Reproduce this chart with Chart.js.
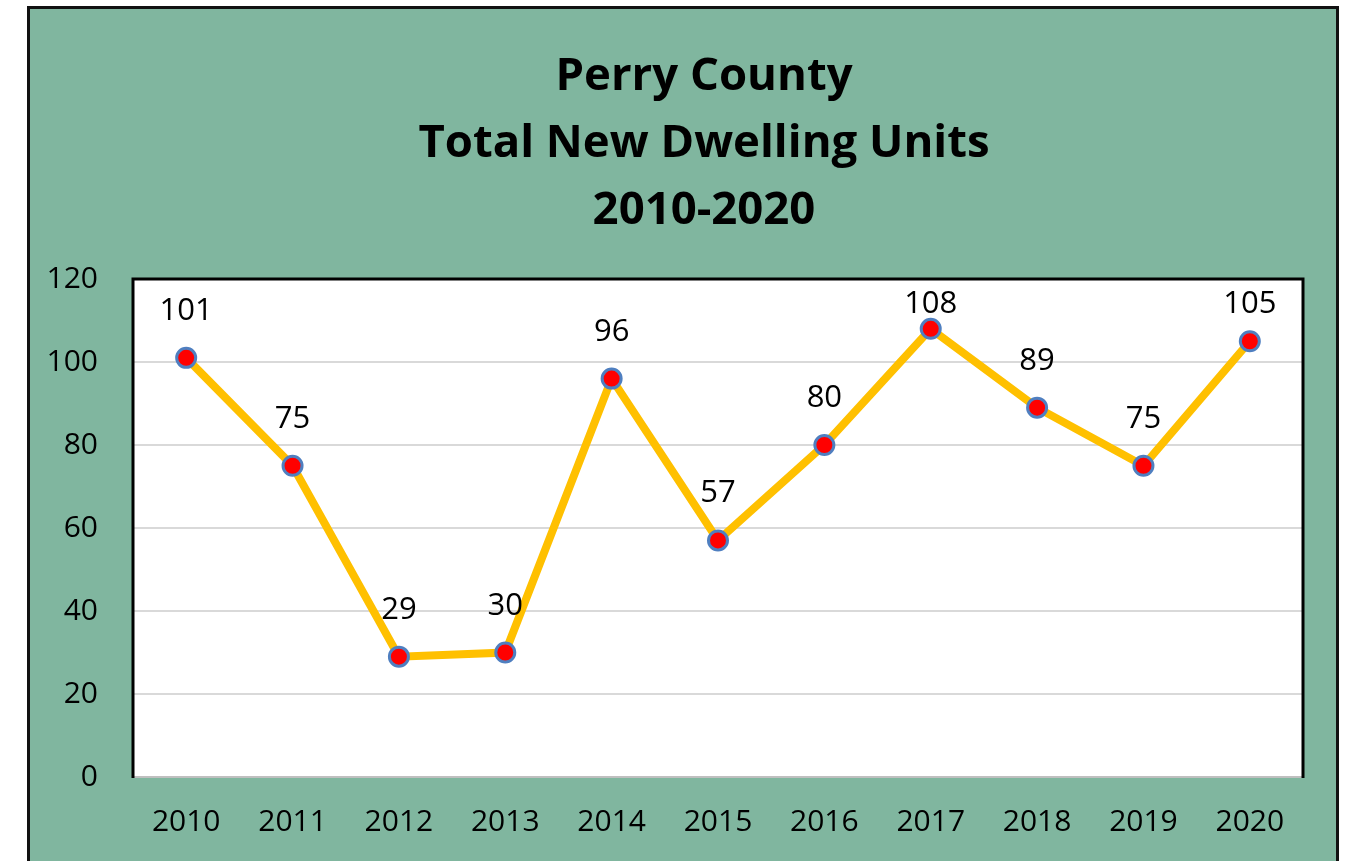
<!DOCTYPE html>
<html>
<head>
<meta charset="utf-8">
<script src="https://cdn.jsdelivr.net/npm/chart.js@4"></script>
<style>
  html, body { margin: 0; padding: 0; background: #ffffff; }
  #wrap { width: 1352px; height: 861px; }
</style>
</head>
<body>
<div id="wrap"><canvas id="chart" width="1352" height="861"></canvas></div>
<script>
// Chart values
var years = ['2010', '2011', '2012', '2013', '2014', '2015', '2016', '2017', '2018', '2019', '2020'];
var units = [101, 75, 29, 30, 96, 57, 80, 108, 89, 75, 105];
var yTicks = [0, 20, 40, 60, 80, 100, 120];
var titleLines = ['Perry County', 'Total New Dwelling Units', '2010-2020'];

var FONT = '"Open Sans", "Liberation Sans", sans-serif';

/**
 * Green panel with black frame behind everything, white plot area.
 */
var panelPlugin = {
    id: 'panel',
    beforeDraw: function(chart) {
        var ctx = chart.ctx;
        var area = chart.chartArea;
        ctx.save();
        ctx.fillStyle = '#ffffff';
        ctx.fillRect(0, 0, chart.width, chart.height);
        ctx.fillStyle = '#80B69F';
        ctx.fillRect(27, 6, 1312, chart.height);
        ctx.strokeStyle = '#111111';
        ctx.lineWidth = 3;
        ctx.beginPath();
        ctx.moveTo(28.5, chart.height + 2);
        ctx.lineTo(28.5, 7.5);
        ctx.lineTo(1337.5, 7.5);
        ctx.lineTo(1337.5, chart.height + 2);
        ctx.stroke();
        ctx.fillStyle = '#ffffff';
        ctx.fillRect(area.left, area.top, area.right - area.left, area.bottom - area.top);
        ctx.restore();
    },
    beforeDatasetsDraw: function(chart) {
        var ctx = chart.ctx;
        var a = chart.chartArea;
        ctx.save();
        // bottom axis line
        ctx.strokeStyle = '#BFBFBF';
        ctx.lineWidth = 2;
        ctx.beginPath();
        ctx.moveTo(a.left, a.bottom);
        ctx.lineTo(a.right, a.bottom);
        ctx.stroke();
        // left, top, right frame
        ctx.strokeStyle = '#000000';
        ctx.lineWidth = 3;
        ctx.beginPath();
        ctx.moveTo(a.left, a.bottom + 1);
        ctx.lineTo(a.left, a.top);
        ctx.lineTo(a.right, a.top);
        ctx.lineTo(a.right, a.bottom + 1);
        ctx.stroke();
        ctx.restore();
    },
    afterDraw: function(chart) {
        var ctx = chart.ctx;
        var a = chart.chartArea;
        ctx.save();
        // Title lines
        ctx.fillStyle = '#000000';
        ctx.textAlign = 'center';
        ctx.textBaseline = 'alphabetic';
        ctx.font = 'bold 45.5px ' + FONT;
        titleLines.forEach(function(line, i) {
            ctx.fillText(line, 704, 90 + i * 67);
        });
        // Data labels above points, kept inside the plot area
        ctx.font = '31px ' + FONT;
        var meta = chart.getDatasetMeta(0);
        meta.data.forEach(function(pt, i) {
            var y = Math.max(pt.y - 38, a.top + 34);
            ctx.fillText(String(units[i]), pt.x, y);
        });
        ctx.restore();
    }
};

new Chart(document.getElementById('chart'), {
    type: 'line',
    data: {
        labels: years,
        datasets: [{
            data: units,
            borderColor: '#FFC000',
            borderWidth: 8,
            tension: 0,
            pointRadius: 9.5,
            pointHoverRadius: 9.5,
            pointBackgroundColor: '#FF0000',
            pointBorderColor: '#4F7FC0',
            pointBorderWidth: 3
        }]
    },
    options: {
        responsive: false,
        animation: false,
        layout: { padding: { top: 279, right: 49, left: 0, bottom: 0 } },
        plugins: {
            legend: { display: false },
            title: { display: false },
            tooltip: { enabled: false }
        },
        scales: {
            x: {
                offset: true,
                grid: { display: false, drawTicks: false },
                border: { display: false },
                ticks: {
                    color: '#000000',
                    font: { family: FONT, size: 30 },
                    padding: 27,
                    maxRotation: 0
                },
                afterFit: function(scale) { scale.height = 84; }
            },
            y: {
                min: 0,
                max: 120,
                afterBuildTicks: function(scale) {
                    scale.ticks = yTicks.map(function(v) { return { value: v }; });
                },
                grid: { color: '#D9D9D9', lineWidth: 2, drawTicks: false },
                border: { display: false },
                ticks: {
                    color: '#000000',
                    font: { family: FONT, size: 30 },
                    padding: 35
                },
                afterFit: function(scale) { scale.width = 133; }
            }
        }
    },
    plugins: [panelPlugin]
});
</script>
</body>
</html>
